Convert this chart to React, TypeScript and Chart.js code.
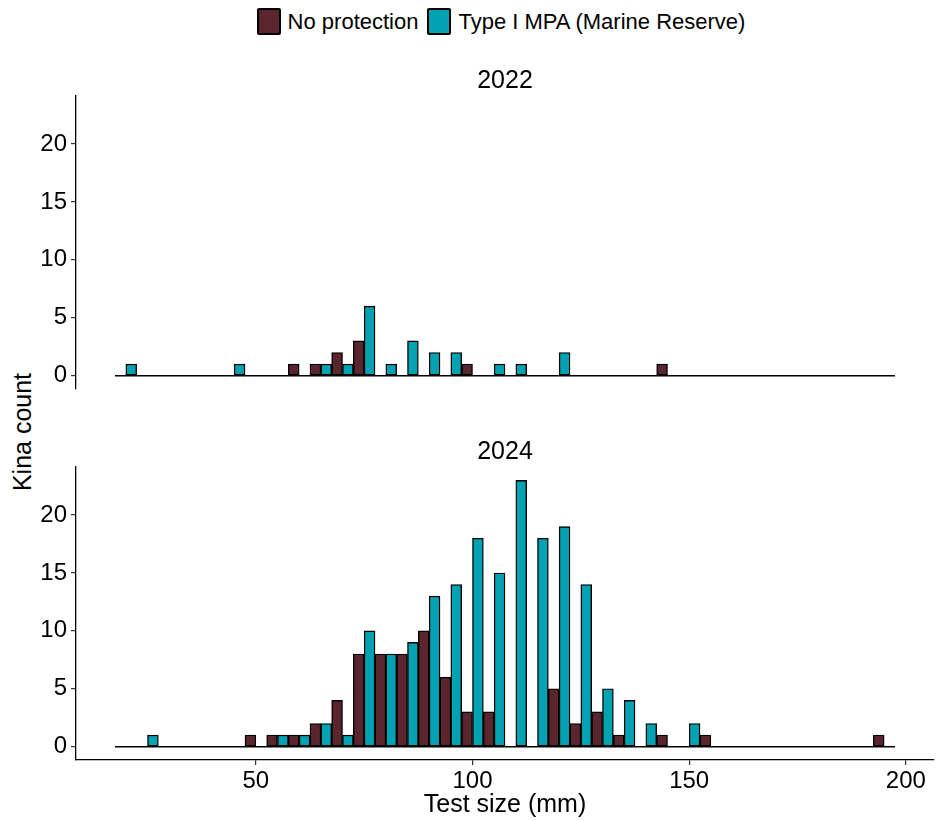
import React, { useEffect, useRef } from 'react';
import { Chart, registerables } from 'chart.js';

Chart.register(...registerables);

// Histogram bins (bin centres in mm, binwidth 5 mm)
const binCenters = [20, 25, 30, 35, 40, 45, 50, 55, 60, 65, 70, 75, 80, 85, 90, 95, 100, 105, 110, 115, 120, 125, 130, 135, 140, 145, 150, 155, 160, 165, 170, 175, 180, 185, 190, 195];
const binWidth = 5;

// Counts per bin
const noProtection2022 = [0, 0, 0, 0, 0, 0, 0, 0, 1, 1, 2, 3, 0, 0, 0, 0, 1, 0, 0, 0, 0, 0, 0, 0, 0, 1, 0, 0, 0, 0, 0, 0, 0, 0, 0, 0];
const marineReserve2022 = [1, 0, 0, 0, 0, 1, 0, 0, 0, 1, 1, 6, 1, 3, 2, 2, 0, 1, 1, 0, 2, 0, 0, 0, 0, 0, 0, 0, 0, 0, 0, 0, 0, 0, 0, 0];
const noProtection2024 = [0, 0, 0, 0, 0, 0, 1, 1, 1, 2, 4, 8, 8, 8, 10, 6, 3, 3, 0, 0, 5, 2, 3, 1, 0, 1, 0, 1, 0, 0, 0, 0, 0, 0, 0, 1];
const marineReserve2024 = [0, 1, 0, 0, 0, 0, 0, 1, 1, 2, 1, 10, 8, 9, 13, 14, 18, 15, 23, 18, 19, 14, 5, 4, 2, 0, 2, 0, 0, 0, 0, 0, 0, 0, 0, 0];

const xTicks = [50, 100, 150, 200];
const yTicks = [0, 5, 10, 15, 20];
const seriesNames = ['No protection', 'Type I MPA (Marine Reserve)'];
const seriesColors = ['#5B252D', '#03A2B2'];
const panelTitles = ['2022', '2024'];

const FONT = '"Liberation Sans", Arial, Helvetica, sans-serif';

const xMinData = binCenters[0] - binWidth / 2;
const xMaxData = binCenters[binCenters.length - 1] + binWidth / 2;
const xExpand = (xMaxData - xMinData) * 0.05;
const yMaxData = Math.max(...noProtection2022, ...marineReserve2022, ...noProtection2024, ...marineReserve2024);
const yExpand = yMaxData * 0.05;

function toPoints(values: number[]) {
  return binCenters.map((c, i) => ({ x: c, y: values[i] > 0 ? values[i] : null }));
}

function makeConfig(np: number[], mr: number[], showX: boolean, padBottom: number): any {
  return {
    type: 'bar',
    data: {
      datasets: [
        {
          type: 'line',
          label: 'baseline',
          data: [
            { x: xMinData, y: 0 },
            { x: xMaxData, y: 0 },
          ],
          borderColor: '#000',
          borderWidth: 1.6,
          pointRadius: 0,
          fill: false,
          order: 5,
        },
        {
          label: seriesNames[0],
          data: toPoints(np),
          backgroundColor: seriesColors[0],
          borderColor: '#000',
          borderWidth: 1.4,
          borderSkipped: false,
          categoryPercentage: 1,
          barPercentage: 1,
          order: 1,
        },
        {
          label: seriesNames[1],
          data: toPoints(mr),
          backgroundColor: seriesColors[1],
          borderColor: '#000',
          borderWidth: 1.4,
          borderSkipped: false,
          categoryPercentage: 1,
          barPercentage: 1,
          order: 1,
        },
      ],
    },
    options: {
      animation: false,
      responsive: false,
      maintainAspectRatio: false,
      layout: { padding: { top: 24, right: 2, bottom: padBottom, left: 0 } },
      plugins: {
        legend: { display: false },
        tooltip: { enabled: false },
        title: { display: false },
      },
      scales: {
        x: {
          type: 'linear',
          min: xMinData - xExpand,
          max: xMaxData + xExpand,
          offset: false,
          display: showX,
          grid: {
            display: true,
            drawOnChartArea: false,
            drawTicks: true,
            tickLength: 5,
            color: '#333',
            lineWidth: 1.2,
            offset: false,
          },
          border: { display: true, color: '#000', width: 1.3 },
          ticks: {
            font: { family: FONT, size: 24 },
            color: '#000',
            padding: 2,
            maxRotation: 0,
            autoSkip: false,
          },
          title: {
            display: true,
            text: 'Test size (mm)',
            font: { family: FONT, size: 25 },
            color: '#000',
            padding: { top: 0, bottom: 1 },
          },
          afterBuildTicks: (s: any) => {
            s.ticks = xTicks.map((v) => ({ value: v }));
          },
          afterFit: (s: any) => {
            if (showX) s.height = 61;
          },
        },
        y: {
          type: 'linear',
          min: -yExpand,
          max: yMaxData + yExpand,
          grid: {
            display: true,
            drawOnChartArea: false,
            drawTicks: true,
            tickLength: 5,
            color: '#333',
            lineWidth: 1.2,
          },
          border: { display: true, color: '#000', width: 1.3 },
          ticks: {
            font: { family: FONT, size: 24 },
            color: '#000',
            padding: 4,
          },
          afterBuildTicks: (s: any) => {
            s.ticks = yTicks.map((v) => ({ value: v }));
          },
          afterFit: (s: any) => {
            s.width = 76;
          },
        },
      },
    },
  };
}

function Panel(props: { np: number[]; mr: number[]; showX: boolean; top: number; height: number; padBottom: number }) {
  const ref = useRef<HTMLCanvasElement | null>(null);
  useEffect(() => {
    if (!ref.current) return;
    const chart = new Chart(ref.current, makeConfig(props.np, props.mr, props.showX, props.padBottom));
    return () => chart.destroy();
  }, []);
  return (
    <canvas
      ref={ref}
      width={936}
      height={props.height}
      style={{ position: 'absolute', left: 0, top: props.top, width: 936, height: props.height }}
    />
  );
}

export default function App() {
  const legendKey = (color: string) => ({
    display: 'inline-block',
    width: 20,
    height: 23,
    background: color,
    border: '2px solid #000',
    borderRadius: 2,
    boxSizing: 'content-box' as const,
  });
  return (
    <div
      style={{
        position: 'absolute',
        left: 0,
        top: 0,
        width: 936,
        height: 821,
        background: '#fff',
        fontFamily: FONT,
        color: '#000',
        overflow: 'hidden',
      }}
    >
      {/* Legend */}
      <div
        style={{
          position: 'absolute',
          left: 0,
          top: 8,
          width: 936,
          display: 'flex',
          justifyContent: 'center',
          alignItems: 'center',
          fontSize: 22,
          lineHeight: '27px',
          paddingLeft: 66,
          boxSizing: 'border-box',
        }}
      >
        <span style={legendKey(seriesColors[0])} />
        <span style={{ marginLeft: 7, marginRight: 9 }}>{seriesNames[0]}</span>
        <span style={legendKey(seriesColors[1])} />
        <span style={{ marginLeft: 7 }}>{seriesNames[1]}</span>
      </div>

      {/* Shared y-axis title */}
      <div
        style={{
          position: 'absolute',
          left: 22,
          top: 432,
          fontSize: 25,
          lineHeight: '25px',
          whiteSpace: 'nowrap',
          transform: 'translate(-50%, -50%) rotate(-90deg)',
        }}
      >
        Kina count
      </div>

      <Panel np={noProtection2022} mr={marineReserve2022} showX={false} top={72} height={341} padBottom={24} />
      <Panel np={noProtection2024} mr={marineReserve2024} showX={true} top={443} height={378} padBottom={0} />

      {/* Facet strip labels */}
      <div
        style={{
          position: 'absolute',
          left: 76,
          width: 858,
          top: 66,
          textAlign: 'center',
          fontSize: 25,
          lineHeight: '26px',
        }}
      >
        {panelTitles[0]}
      </div>
      <div
        style={{
          position: 'absolute',
          left: 76,
          width: 858,
          top: 437,
          textAlign: 'center',
          fontSize: 25,
          lineHeight: '26px',
        }}
      >
        {panelTitles[1]}
      </div>
    </div>
  );
}
